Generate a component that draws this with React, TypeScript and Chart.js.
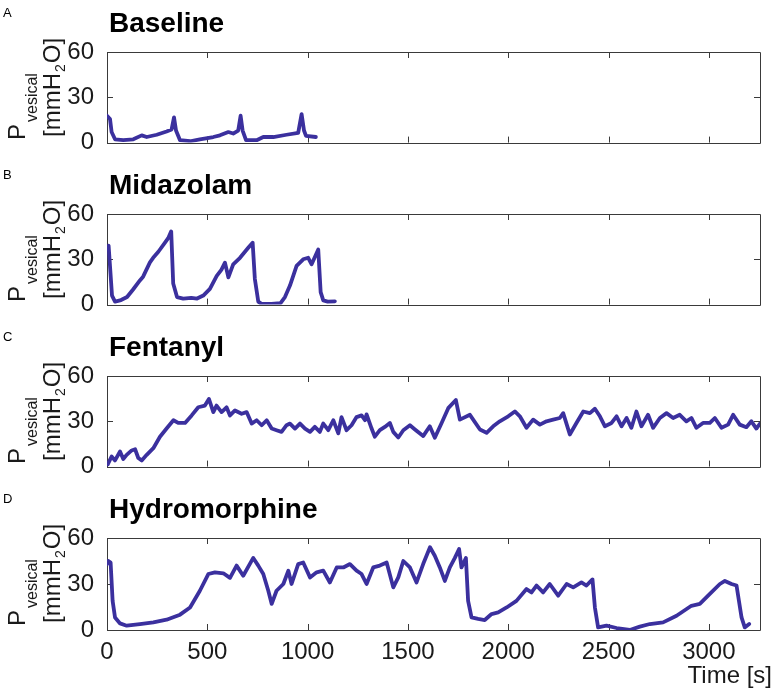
import { useEffect, useRef } from "react";
import { Chart, registerables } from "chart.js";

Chart.register(...registerables);

const panelLetters = ["A", "B", "C", "D"];
const panelTitles = ["Baseline", "Midazolam", "Fentanyl", "Hydromorphine"];
const xTicks = [0, 500, 1000, 1500, 2000, 2500, 3000];
const yTicks = [0, 30, 60];
const X_MAX = 3255;
const Y_MAX = 60;

const baselineTime = [0, 15, 23, 40, 81, 131, 173, 198, 248, 297, 322, 334, 344, 364, 414, 463, 530, 563, 605, 629, 654, 666, 676, 693, 746, 779, 829, 895, 953, 970, 982, 992, 1041];
const baselinePressure = [17.8, 15.6, 7, 2.2, 1.6, 2.2, 4.8, 3.7, 5.2, 7.4, 8.7, 16.7, 8, 1.6, 0.9, 2.2, 3.7, 4.8, 7, 6, 8, 17.8, 8, 1.6, 1.6, 3.7, 3.7, 5.2, 6.5, 18.9, 8, 4.4, 3.7];

const midazolamTime = [0, 8, 25, 40, 70, 100, 130, 164, 180, 214, 230, 256, 289, 305, 320, 330, 349, 380, 420, 449, 480, 513, 547, 570, 588, 605, 629, 663, 704, 726, 737, 754, 770, 820, 865, 887, 912, 945, 978, 1003, 1020, 1053, 1065, 1078, 1100, 1136];
const midazolamPressure = [37, 39, 6, 2, 3, 5, 10, 16, 18.5, 28, 31, 35, 41, 44, 48.5, 14, 5, 4, 4.5, 4, 6, 10.4, 19, 23, 27.8, 18, 26.7, 31, 37.6, 41, 17, 2, 0.5, 0.4, 1, 5, 12.6, 25.6, 30, 31, 26.7, 36.5, 8.3, 2.8, 2, 2.2];

const fentanylTime = [3, 23, 40, 65, 81, 98, 123, 140, 156, 173, 198, 231, 264, 297, 331, 355, 389, 422, 455, 488, 508, 530, 546, 571, 596, 613, 638, 671, 696, 721, 746, 771, 796, 821, 845, 870, 895, 912, 937, 962, 987, 1012, 1036, 1061, 1078, 1103, 1128, 1153, 1169, 1194, 1219, 1244, 1269, 1286, 1294, 1319, 1335, 1360, 1385, 1410, 1427, 1452, 1477, 1510, 1535, 1576, 1609, 1634, 1668, 1701, 1739, 1759, 1809, 1859, 1892, 1925, 1958, 2000, 2033, 2058, 2091, 2124, 2158, 2191, 2224, 2257, 2274, 2307, 2340, 2374, 2407, 2432, 2457, 2482, 2515, 2540, 2565, 2590, 2614, 2639, 2664, 2697, 2722, 2756, 2789, 2822, 2855, 2888, 2913, 2938, 2971, 3005, 3030, 3063, 3096, 3121, 3154, 3187, 3212, 3237, 3254];
const fentanylPressure = [1.3, 6.7, 4.1, 10, 5, 7.8, 10.7, 11.5, 5.7, 4.1, 7.8, 12.2, 19.8, 25.2, 30.7, 28.9, 28.9, 33.9, 39.3, 40.4, 44.8, 36.1, 40.4, 36.1, 39.3, 33.9, 37.2, 35, 36.1, 28.5, 30.7, 27.4, 30.7, 25.2, 24.1, 23, 27.4, 28.5, 25.2, 28.5, 25.2, 23, 26.3, 23, 28.5, 24.1, 30.7, 22, 32.8, 24.1, 27.4, 32.8, 33.9, 30.7, 34.6, 25.2, 19.8, 24.1, 26.3, 28.9, 23, 19.3, 24.1, 27.4, 24.6, 20.2, 26.7, 19.1, 28.9, 38.7, 44.1, 31.1, 34.3, 24.6, 22.4, 26.7, 30, 33.3, 36.5, 33.3, 25.7, 31.1, 27.8, 30, 31.1, 32.2, 35.4, 21.3, 28.9, 36.5, 35.4, 38.3, 33.3, 26.7, 28.9, 33.3, 26.7, 32.2, 25.7, 36.5, 26.7, 34.3, 25.7, 32.2, 35.4, 32.2, 34.3, 30, 32.2, 25.7, 28.9, 28.9, 32.2, 25.7, 27.8, 34.3, 27.8, 26.1, 30, 25.2, 28.3];

const hydromorphineTime = [0, 7, 18, 28, 40, 65, 98, 164, 231, 297, 364, 414, 463, 505, 538, 580, 613, 646, 679, 729, 754, 779, 804, 821, 845, 879, 904, 920, 953, 978, 1012, 1045, 1078, 1111, 1145, 1178, 1211, 1244, 1269, 1294, 1327, 1360, 1394, 1427, 1452, 1477, 1510, 1543, 1576, 1610, 1634, 1659, 1684, 1709, 1734, 1755, 1767, 1789, 1800, 1817, 1850, 1883, 1917, 1950, 1992, 2041, 2091, 2116, 2141, 2174, 2207, 2249, 2291, 2324, 2365, 2390, 2420, 2432, 2448, 2490, 2540, 2606, 2656, 2706, 2772, 2839, 2913, 2955, 3005, 3055, 3080, 3113, 3138, 3163, 3179, 3201];
const hydromorphinePressure = [43, 45, 44, 19, 8.2, 4.3, 2.8, 3.9, 5, 6.7, 10, 14.7, 25.6, 36.5, 37.6, 37, 34, 42, 35.4, 47, 42, 36.5, 25.6, 17, 25.6, 30, 38.7, 30, 43, 44, 34.3, 37.6, 38.7, 31, 40.8, 40.8, 43, 38.7, 36.5, 30, 40.8, 42, 44, 27.8, 34.3, 45, 40.8, 31, 43, 54, 48.4, 40.8, 32, 40.8, 47, 52.8, 40.8, 47, 19, 8.2, 7.2, 6.5, 10.4, 11.5, 14.7, 19, 26.7, 24.5, 29, 24.5, 30, 22.4, 30, 27.8, 31, 29, 33, 14.7, 1.7, 2.8, 1.3, 0, 2.2, 3.9, 5, 9.3, 15.8, 17, 23.5, 30, 32, 30, 29, 8.2, 1.7, 3.9];

const seriesTimes = [baselineTime, midazolamTime, fentanylTime, hydromorphineTime];
const seriesPressures = [baselinePressure, midazolamPressure, fentanylPressure, hydromorphinePressure];

const FONT = "'Liberation Sans', Arial, Helvetica, sans-serif";
const LINE_COLOR = "#3b309e";
const AXIS_COLOR = "#3a3a3a";
const PANEL_STEP = 162;

function makeBoxPlugin() {
  return {
    id: "matlabBox",
    beforeDatasetsDraw(chart: any) {
      const { ctx, chartArea } = chart;
      const { left, right, top, bottom } = chartArea;
      const xs = chart.scales.x;
      const ys = chart.scales.y;
      const tl = 6;
      ctx.save();
      ctx.strokeStyle = AXIS_COLOR;
      ctx.lineWidth = 1;
      ctx.beginPath();
      ctx.rect(Math.round(left) + 0.5, Math.round(top) + 0.5, Math.round(right - left), Math.round(bottom - top));
      ctx.stroke();
      ctx.beginPath();
      for (const v of xTicks) {
        const px = Math.round(xs.getPixelForValue(v)) + 0.5;
        ctx.moveTo(px, bottom);
        ctx.lineTo(px, bottom - tl);
        ctx.moveTo(px, top);
        ctx.lineTo(px, top + tl);
      }
      for (const v of yTicks) {
        const py = Math.round(ys.getPixelForValue(v)) + 0.5;
        ctx.moveTo(left, py);
        ctx.lineTo(left + tl, py);
        ctx.moveTo(right, py);
        ctx.lineTo(right - tl, py);
      }
      ctx.stroke();
      ctx.restore();
    },
  };
}

function makeTextPlugin(index: number, isLast: boolean) {
  return {
    id: "panelText",
    afterDraw(chart: any) {
      const { ctx, chartArea } = chart;
      const T = chartArea.top;
      const L = chartArea.left;
      ctx.save();
      ctx.fillStyle = "#000";
      ctx.textBaseline = "alphabetic";
      ctx.textAlign = "left";
      ctx.font = `13px ${FONT}`;
      ctx.fillText(panelLetters[index], 3, T - 35);
      ctx.font = `bold 28px ${FONT}`;
      ctx.fillText(panelTitles[index], L + 2, T - 20);

      if (isLast) {
        ctx.font = `24px ${FONT}`;
        ctx.fillStyle = "#1a1a1a";
        ctx.textAlign = "right";
        ctx.fillText("Time [s]", 772, chartArea.bottom + 53);
        ctx.textAlign = "left";
      }

      // rotated y-axis label
      ctx.fillStyle = "#1a1a1a";
      ctx.translate(25, T + 88);
      ctx.rotate(-Math.PI / 2);
      ctx.font = `24px ${FONT}`;
      ctx.fillText("P", 0, 0);
      const pw = ctx.measureText("P").width;
      ctx.font = `16px ${FONT}`;
      ctx.fillText("vesical", pw + 2, 12);

      let x = 3;
      const y2 = 35;
      ctx.font = `24px ${FONT}`;
      ctx.fillText("[mmH", x, y2);
      x += ctx.measureText("[mmH").width;
      ctx.font = `14px ${FONT}`;
      ctx.fillText("2", x + 1, y2 + 5);
      x += ctx.measureText("2").width + 2;
      ctx.font = `24px ${FONT}`;
      ctx.fillText("O]", x, y2);
      ctx.restore();
    },
  };
}

function Panel({ index }: { index: number }) {
  const ref = useRef<HTMLCanvasElement>(null);
  const isLast = index === 3;
  const height = isLast ? 207 : PANEL_STEP;

  useEffect(() => {
    const canvas = ref.current;
    if (!canvas) return;
    const times = seriesTimes[index];
    const pressures = seriesPressures[index];
    const chart = new Chart(canvas, {
      type: "line",
      data: {
        datasets: [
          {
            data: times.map((t, i) => ({ x: t, y: pressures[i] })),
            borderColor: LINE_COLOR,
            borderWidth: 3.8,
            pointRadius: 0,
            tension: 0,
            fill: false,
            borderJoinStyle: "round",
            borderCapStyle: "round",
          },
        ],
      },
      options: {
        responsive: false,
        animation: false,
        devicePixelRatio: 1,
        layout: { padding: { top: 52, right: 16, left: 0, bottom: 0 } },
        plugins: {
          legend: { display: false },
          tooltip: { enabled: false },
          title: { display: false },
        },
        scales: {
          x: {
            type: "linear",
            min: 0,
            max: X_MAX,
            afterBuildTicks: (s: any) => {
              s.ticks = xTicks.map((v) => ({ value: v }));
            },
            afterFit: (s: any) => {
              s.height = isLast ? 63 : 18;
            },
            grid: { display: false },
            border: { display: false },
            ticks: {
              display: isLast,
              autoSkip: false,
              maxRotation: 0,
              padding: 0,
              color: "#1a1a1a",
              font: { family: FONT, size: 24 },
              callback: (v: any) => String(v),
            },
          },
          y: {
            type: "linear",
            min: 0,
            max: Y_MAX,
            afterBuildTicks: (s: any) => {
              s.ticks = yTicks.map((v) => ({ value: v }));
            },
            afterFit: (s: any) => {
              s.width = 107;
            },
            grid: { display: false },
            border: { display: false },
            ticks: {
              padding: 5,
              color: "#1a1a1a",
              font: { family: FONT, size: 24 },
              callback: (v: any) => String(v),
            },
          },
        },
      },
      plugins: [makeBoxPlugin(), makeTextPlugin(index, isLast)],
    } as any);
    return () => chart.destroy();
  }, [index, isLast]);

  return (
    <canvas
      ref={ref}
      width={776}
      height={height}
      style={{ position: "absolute", left: 0, top: index * PANEL_STEP, display: "block", width: 776, height }}
    />
  );
}

export default function App() {
  return (
    <div style={{ position: "absolute", left: 0, top: 0, width: 776, height: 693, background: "#fff", overflow: "hidden" }}>
      {[0, 1, 2, 3].map((i) => (
        <Panel key={i} index={i} />
      ))}
    </div>
  );
}
